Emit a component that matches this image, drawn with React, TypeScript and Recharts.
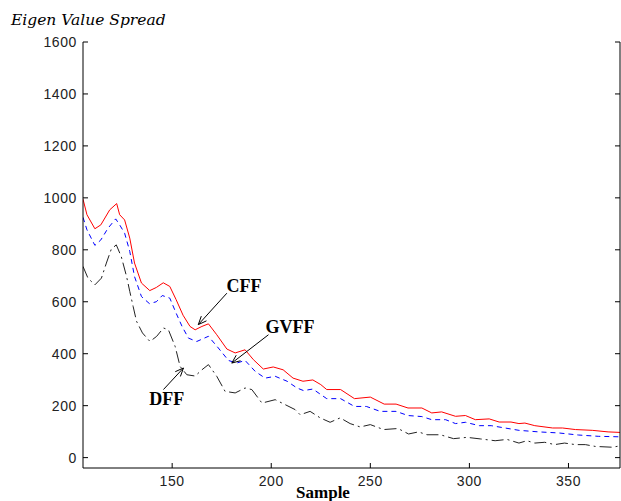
import React from 'react';
import { LineChart, Line, XAxis, YAxis, ReferenceLine, ReferenceDot } from 'recharts';

const cffX = [105,107,111,114,118.5,122,123.5,126,128.6,131,134.5,138.7,142,145.5,148.8,152,155.5,159,161.6,165,168.3,172.5,177.6,181.8,186.8,191,196,201,206,211,216,221,225,228,235,242,250,257,263,269,276,281,286,293,298,303,310,315,321,325,328,333,342,347,353.5,362,370,376];
const cffY = [995,935,881,896,954,978,935,915,845,749,672,643,655,673,659,608,548,505,492,505,515,473,418,403,415,377,341,349,338,306,294,299,281,262,262,227,233,206,206,191,191,172,176,159,162,146,149,137,137,131,133,123,114,114,108,105,99,97];

const gvffX = [105,107,111,114,117.6,121.5,123.5,126,128.6,131,134.5,138.5,142,145,148.8,152,155,158.2,162.4,168.3,173.3,178.4,182.6,186.8,191.9,196.9,202,208,213,216.3,221,228,235,242,248,255,263,269,276,281,288,293,298,305,311,318,325,335,345,355,365,376];
const gvffY = [925,877,817,838,883,919,896,864,794,697,620,593,600,624,614,556,505,460,447,467,422,374,364,374,332,306,313,294,268,258,264,227,227,197,197,178,178,162,158,146,146,131,136,123,123,114,105,99,95,87,82,80];

const dffX = [105,107.5,111,114.3,116.8,119.3,121.8,124.3,127,128.6,130.3,132,135,138.8,142.2,145.6,148.1,151.5,154,157.4,161.6,165,168.3,172.5,176.7,181.8,186.8,190.2,195.3,202,207,212,214.6,219.6,224.7,229.7,234.8,239.8,244.9,250,256.7,264,269.3,274.3,278.6,285.3,292,298.8,305.5,313,319,325,329,333,338,343,348,353.5,358.5,363.6,372,376];
const dffY = [736,691,665,691,749,803,819,774,697,640,582,525,480,447,467,499,492,428,351,319,314,338,358,313,255,249,268,262,210,223,204,185,165,178,153,136,153,131,118,127,108,112,91,99,88,88,73,78,72,65,70,56,65,56,59,50,56,50,50,43,40,45];

const xTicks = [150, 200, 250, 300, 350];
const yTicks = [0, 200, 400, 600, 800, 1000, 1200, 1400, 1600];
const xDomain = [105, 376];
const yDomain = [-40, 1600];

const labelNames = ['CFF', 'GVFF', 'DFF'];
const labelX = [186.3, 209.5, 147.3];
const labelY = [638, 480, 204];
const arrowFromX = [177.6, 198.6, 145.6];
const arrowFromY = [633, 473, 262];
const arrowToX = [163.2, 180.1, 155.7];
const arrowToY = [512, 364, 345];

const titleText = 'Eigen Value Spread';
const xLabelText = 'Sample';

const toPts = (xs: number[], ys: number[]) => xs.map((x, i) => ({ x, y: ys[i] }));
const cffData = toPts(cffX, cffY);
const gvffData = toPts(gvffX, gvffY);
const dffData = toPts(dffX, dffY);

const tickFont = '"Liberation Sans", Arial, sans-serif';
const serif = '"Liberation Serif", "Times New Roman", serif';
const tickColor = '#222';

const BottomTick = (p: any) => (
  <g>
    <line x1={p.x} y1={p.y} x2={p.x} y2={p.y - 5} stroke="#000" />
    <text x={p.x} y={p.y + 18} textAnchor="middle" fontFamily={tickFont} fontSize={14} letterSpacing={0.6} fill={tickColor}>{p.payload.value}</text>
  </g>
);
const TopTick = (p: any) => (
  <line x1={p.x} y1={p.y} x2={p.x} y2={p.y + 5} stroke="#000" />
);
const LeftTick = (p: any) => (
  <g>
    <line x1={p.x} y1={p.y} x2={p.x + 5} y2={p.y} stroke="#000" />
    <text x={p.x - 6} y={p.y + 5} textAnchor="end" fontFamily={tickFont} fontSize={14} letterSpacing={0.6} fill={tickColor}>{p.payload.value}</text>
  </g>
);
const RightTick = (p: any) => (
  <line x1={p.x} y1={p.y} x2={p.x - 5} y2={p.y} stroke="#000" />
);

const Arrow = (p: any) => {
  const { x1, y1, x2, y2 } = p;
  const a = Math.atan2(y2 - y1, x2 - x1);
  const L = 9;
  const s = 0.4;
  const ax = x2 - L * Math.cos(a - s);
  const ay = y2 - L * Math.sin(a - s);
  const bx = x2 - L * Math.cos(a + s);
  const by = y2 - L * Math.sin(a + s);
  return (
    <g>
      <line x1={x1} y1={y1} x2={x2} y2={y2} stroke="#000" strokeWidth={1} />
      <polyline points={`${ax},${ay} ${x2},${y2} ${bx},${by}`} fill="none" stroke="#000" strokeWidth={1} />
    </g>
  );
};

export default function App() {
  return (
    <div style={{ position: 'absolute', left: 0, top: 0, width: 621, height: 501, background: '#fff' }}>
      <LineChart width={621} height={501} margin={{ top: 42, right: 0, bottom: 0, left: 0 }}>
        <XAxis xAxisId="b" dataKey="x" type="number" domain={xDomain} ticks={xTicks} allowDataOverflow
          orientation="bottom" height={33} tickSize={0} tickMargin={0} tickLine={false}
          axisLine={{ stroke: '#000' }} tick={<BottomTick />} interval={0} />
        <XAxis xAxisId="t" dataKey="x" type="number" domain={xDomain} ticks={xTicks} allowDataOverflow
          orientation="top" height={0} tickSize={0} tickMargin={0} tickLine={false}
          axisLine={{ stroke: '#000' }} tick={<TopTick />} interval={0} />
        <YAxis yAxisId="l" type="number" domain={yDomain} ticks={yTicks} allowDataOverflow
          orientation="left" width={83} tickSize={0} tickMargin={0} tickLine={false}
          axisLine={{ stroke: '#000' }} tick={<LeftTick />} interval={0} />
        <YAxis yAxisId="r" type="number" domain={yDomain} ticks={yTicks} allowDataOverflow
          orientation="right" width={1} tickSize={0} tickMargin={0} tickLine={false}
          axisLine={{ stroke: '#000' }} tick={<RightTick />} interval={0} />
        <Line xAxisId="b" yAxisId="l" data={dffData} dataKey="y" type="linear" stroke="#222" strokeWidth={1}
          strokeDasharray="12 4 2 4" dot={false} isAnimationActive={false} />
        <Line xAxisId="b" yAxisId="l" data={gvffData} dataKey="y" type="linear" stroke="#0000ff" strokeWidth={1}
          strokeDasharray="5 4" dot={false} isAnimationActive={false} />
        <Line xAxisId="b" yAxisId="l" data={cffData} dataKey="y" type="linear" stroke="#ff0000" strokeWidth={1}
          dot={false} isAnimationActive={false} />
        {labelNames.map((n, i) => (
          <ReferenceLine key={'a' + n} xAxisId="b" yAxisId="l" ifOverflow="visible"
            segment={[{ x: arrowFromX[i], y: arrowFromY[i] }, { x: arrowToX[i], y: arrowToY[i] }]}
            shape={(p: any) => <Arrow {...p} />} />
        ))}
        {labelNames.map((n, i) => (
          <ReferenceDot key={'t' + n} xAxisId="b" yAxisId="l" x={labelX[i]} y={labelY[i]} r={1} ifOverflow="visible"
            shape={(p: any) => (
              <text x={p.cx} y={p.cy} textAnchor="middle" fontFamily={serif} fontWeight="bold" fontSize={18} fill="#000">{n}</text>
            )} />
        ))}
      </LineChart>
      <svg width={621} height={501} style={{ position: 'absolute', left: 0, top: 0, pointerEvents: 'none' }}>
        <text x={11} y={25} fontFamily='"DejaVu Serif", serif' fontStyle="italic" fontSize={15.5} fill="#000">{titleText}</text>
        <text x={323} y={498} textAnchor="middle" fontFamily={serif} fontWeight="bold" fontSize={17} fill="#000">{xLabelText}</text>
      </svg>
    </div>
  );
}
